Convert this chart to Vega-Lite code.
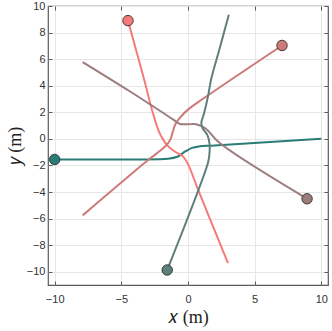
{
  "$schema": "https://vega.github.io/schema/vega-lite/v6.json",
  "width": 280,
  "height": 279,
  "autosize": {"type": "none"},
  "padding": {"left": 48, "top": 6, "right": 4, "bottom": 46},
  "background": "white",
  "config": {
    "font": "Liberation Sans",
    "view": {"stroke": "#5a5a5a", "strokeWidth": 1.2},
    "axis": {
      "domain": false,
      "grid": true,
      "gridColor": "#e6e6e6",
      "gridWidth": 1,
      "tickColor": "#5a5a5a",
      "tickSize": -4,
      "labelFontSize": 11,
      "labelColor": "#333333",
      "titleFont": "Liberation Serif",
      "titleFontSize": 18,
      "titleFontWeight": "normal",
      "titleColor": "#222222"
    }
  },
  "datasets": {
    "traj": [
      {"id": "A", "o": 0, "x": -10, "y": -1.55},
      {"id": "A", "o": 1, "x": -4, "y": -1.55},
      {"id": "A", "o": 2, "x": -1.5, "y": -1.5},
      {"id": "A", "o": 3, "x": -0.8, "y": -1.35},
      {"id": "A", "o": 4, "x": -0.2, "y": -0.95},
      {"id": "A", "o": 5, "x": 0.3, "y": -0.68},
      {"id": "A", "o": 6, "x": 0.8, "y": -0.57},
      {"id": "A", "o": 7, "x": 2, "y": -0.5},
      {"id": "A", "o": 8, "x": 10, "y": 0},
      {"id": "B", "o": 0, "x": -4.5, "y": 8.9},
      {"id": "B", "o": 1, "x": -3.3, "y": 4.5},
      {"id": "B", "o": 2, "x": -2.65, "y": 2.0},
      {"id": "B", "o": 3, "x": -2.2, "y": 0.6},
      {"id": "B", "o": 4, "x": -1.9, "y": 0.0},
      {"id": "B", "o": 5, "x": -1.5, "y": -0.55},
      {"id": "B", "o": 6, "x": -1.0, "y": -0.95},
      {"id": "B", "o": 7, "x": -0.4, "y": -1.3},
      {"id": "B", "o": 8, "x": 0, "y": -1.9},
      {"id": "B", "o": 9, "x": 0.8, "y": -3.94},
      {"id": "B", "o": 10, "x": 3.0, "y": -9.35},
      {"id": "C", "o": 0, "x": 7.05, "y": 7.03},
      {"id": "C", "o": 1, "x": 1.1, "y": 3.0},
      {"id": "C", "o": 2, "x": 0, "y": 2.2},
      {"id": "C", "o": 3, "x": -0.6, "y": 1.6},
      {"id": "C", "o": 4, "x": -0.95, "y": 1.1},
      {"id": "C", "o": 5, "x": -1.15, "y": 0.5},
      {"id": "C", "o": 6, "x": -1.3, "y": 0.0},
      {"id": "C", "o": 7, "x": -1.55, "y": -0.4},
      {"id": "C", "o": 8, "x": -2.1, "y": -0.9},
      {"id": "C", "o": 9, "x": -2.9, "y": -1.52},
      {"id": "C", "o": 10, "x": -7.9, "y": -5.76},
      {"id": "D", "o": 0, "x": 8.93, "y": -4.51},
      {"id": "D", "o": 1, "x": 2.36, "y": -0.3},
      {"id": "D", "o": 2, "x": 1.3, "y": 0.8},
      {"id": "D", "o": 3, "x": 0.6, "y": 1.1},
      {"id": "D", "o": 4, "x": 0, "y": 1.1},
      {"id": "D", "o": 5, "x": -0.6, "y": 1.12},
      {"id": "D", "o": 6, "x": -1.1, "y": 1.45},
      {"id": "D", "o": 7, "x": -4.4, "y": 3.6},
      {"id": "D", "o": 8, "x": -7.9, "y": 5.78},
      {"id": "E", "o": 0, "x": -1.56, "y": -9.87},
      {"id": "E", "o": 1, "x": 1.5, "y": -1.8},
      {"id": "E", "o": 2, "x": 1.6, "y": -1.2},
      {"id": "E", "o": 3, "x": 1.62, "y": -0.4},
      {"id": "E", "o": 4, "x": 1.45, "y": 0.3},
      {"id": "E", "o": 5, "x": 1.1, "y": 0.8},
      {"id": "E", "o": 6, "x": 1.0, "y": 1.2},
      {"id": "E", "o": 7, "x": 1.2, "y": 1.9},
      {"id": "E", "o": 8, "x": 1.5, "y": 3.2},
      {"id": "E", "o": 9, "x": 1.74, "y": 4.5},
      {"id": "E", "o": 10, "x": 2.4, "y": 6.9},
      {"id": "E", "o": 11, "x": 3.06, "y": 9.35}
    ],
    "starts": [
      {"id": "A", "x": -10, "y": -1.55},
      {"id": "B", "x": -4.5, "y": 8.9},
      {"id": "C", "x": 7.05, "y": 7.03},
      {"id": "D", "x": 8.93, "y": -4.51},
      {"id": "E", "x": -1.56, "y": -9.87}
    ]
  },
  "resolve": {"axis": {"x": "independent", "y": "independent"}},
  "layer": [
    {
      "data": {"name": "traj"},
      "mark": {"type": "line", "strokeWidth": 2, "interpolate": "catmull-rom"},
      "encoding": {
        "x": {"field": "x", "type": "quantitative", "scale": {"domain": [-10.5, 10.5], "nice": false, "zero": false},
              "axis": {"values": [-10, -5, 0, 5, 10], "orient": "bottom", "title": "𝑥 (m)", "labelPadding": 12, "titlePadding": 4}},
        "y": {"field": "y", "type": "quantitative", "scale": {"domain": [-11, 10], "nice": false, "zero": false},
              "axis": {"values": [-10, -8, -6, -4, -2, 0, 2, 4, 6, 8, 10], "orient": "left", "title": "𝑦 (m)", "labelPadding": 7, "titlePadding": 2}},
        "color": {"field": "id", "type": "nominal", "legend": null,
                  "scale": {"domain": ["A", "B", "C", "D", "E"], "range": ["#2a7c76", "#f77a7a", "#cd7a78", "#9c7c7c", "#5f7f7d"]}},
        "order": {"field": "o", "type": "quantitative"}
      }
    },
    {
      "data": {"name": "starts"},
      "mark": {"type": "point", "filled": true, "size": 110, "opacity": 1, "stroke": "#222222", "strokeWidth": 0.8},
      "encoding": {
        "x": {"field": "x", "type": "quantitative", "axis": {"orient": "top", "values": [-10, -5, 0, 5, 10], "labels": false, "grid": false, "title": null}},
        "y": {"field": "y", "type": "quantitative", "axis": {"orient": "right", "values": [-10, -8, -6, -4, -2, 0, 2, 4, 6, 8, 10], "labels": false, "grid": false, "title": null}},
        "color": {"field": "id", "type": "nominal", "legend": null}
      }
    }
  ]
}
